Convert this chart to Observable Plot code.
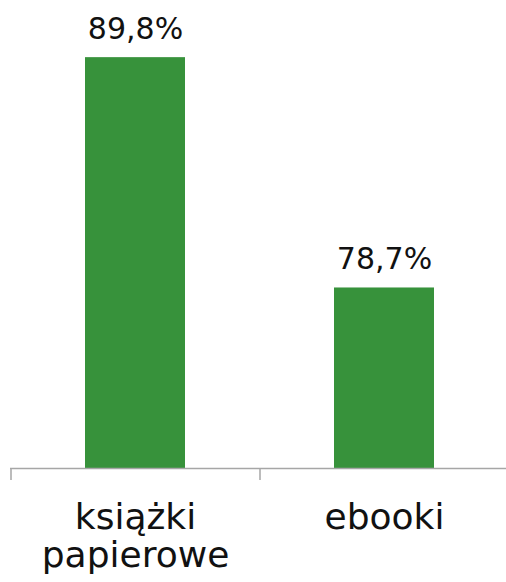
<!DOCTYPE html>
<html>
<head>
<meta charset="utf-8">
<script src="https://cdn.jsdelivr.net/npm/d3@7"></script>
<script src="https://cdn.jsdelivr.net/npm/@observablehq/plot@0.6"></script>
<style>
  html, body { margin: 0; padding: 0; background: #fff; }
</style>
</head>
<body>
<div id="chart"></div>
<script>
const categories = ["książki papierowe", "ebooki"];
const categoryLabels = ["książki\npapierowe", "ebooki"];
const values = [89.8, 78.7];
const valueLabels = ["89,8%", "78,7%"];

const data = categories.map((c, i) => ({category: c, value: values[i], label: valueLabels[i], tick: categoryLabels[i]}));

const W = 506, H = 582, mL = 10, mR = -2;
const step = (W - mL - mR) / categories.length;
const font = "DejaVu Sans";

const chart = Plot.plot({
  width: W,
  height: H,
  marginLeft: mL,
  marginRight: mR,
  marginTop: 53,
  marginBottom: 114,
  style: {fontFamily: font, background: "#fff", color: "#111"},
  x: {domain: categories, paddingInner: 0.6, paddingOuter: 0.3, axis: null},
  y: {domain: [70, 90], axis: null},
  marks: [
    Plot.barY(data, {x: "category", y1: 70, y2: "value", fill: "#37923b"}),
    Plot.ruleY([70], {stroke: "#a6a6a6", strokeWidth: 1.5}),
    Plot.ruleX(data, {x: "category", dx: -step / 2, y1: 70, y2: 70, insetBottom: -12, stroke: "#a6a6a6", strokeWidth: 1.5}),
    Plot.ruleX(data.slice(-1), {x: "category", dx: step / 2, y1: 70, y2: 70, insetBottom: -12, stroke: "#a6a6a6", strokeWidth: 1.5}),
    Plot.text(data, {x: "category", y: "value", text: "label", dy: -19, lineAnchor: "bottom", fontSize: 30, fill: "#111"}),
    Plot.text(data, {x: "category", y: 70, text: "tick", dy: 34, lineAnchor: "top", lineHeight: 1.04, fontSize: 36, fill: "#111"})
  ]
});
document.getElementById("chart").appendChild(chart);
</script>
</body>
</html>
